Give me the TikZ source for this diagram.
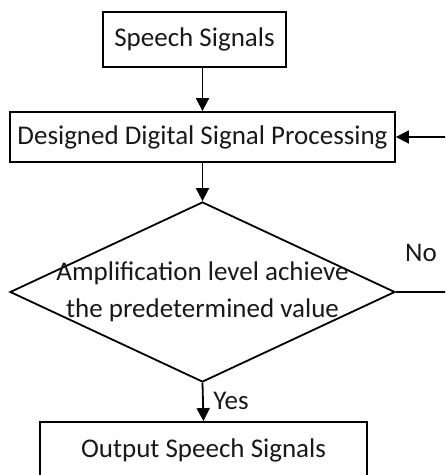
\documentclass[tikz,border=0pt]{standalone}
\usepackage{fontspec}
\setmainfont{Carlito}
\usetikzlibrary{arrows.meta}
\usetikzlibrary{shapes.geometric}

\begin{document}
\begin{tikzpicture}[
            x=0.5pt, y=-0.5pt,
            every node/.style={font=\fontsize{13.5}{18.5}\selectfont, text=black!90},
            stepbox/.style={
                draw,
                line width=0.9pt,
                rectangle,
                inner sep=0pt
            },
            decision/.style={
                draw,
                line width=0.9pt,
                diamond,
                inner sep=0pt,
                minimum width=192.5pt,
                minimum height=90pt
            },
            flow/.style={
                line width=0.9pt,
                -{Triangle[length=6.5pt,width=6.5pt]}
            }
        ]
        \useasboundingbox (0,0) rectangle (445,475);
        \clip (0,0) rectangle (445,475);
        % boxes
        \node[stepbox, minimum width=91.5pt, minimum height=27.5pt] (speech) at (194.5, 39.5) {Speech Signals};
        \node[stepbox, minimum width=192.5pt, minimum height=25pt] (dsp) at (202.5, 137) {Designed Digital Signal Processing};
        \node[decision] (check) at (202.5, 292) {};
        \node[align=center] (checktext) at (check) {Amplification level achieve\\the predetermined value};
        \node[stepbox, minimum width=163.5pt, minimum height=28pt] (output) at (203.5, 450) {Output Speech Signals};
        % labels
        \node (yes) at (231, 401) {Yes};
        \node (no) at (421, 253) {No};
        % connectors
        \coordinate (loop) at (470, 0);
        \draw[flow] (speech.south -| dsp.north) -- (dsp.north);
        \draw[flow] (dsp.south) -- (check.north);
        \draw[flow] (check.south) -- (output.north);
        \draw[flow] (check.east) -- (check.east -| loop) |- (dsp.east);
        \end{tikzpicture}
\end{document}
